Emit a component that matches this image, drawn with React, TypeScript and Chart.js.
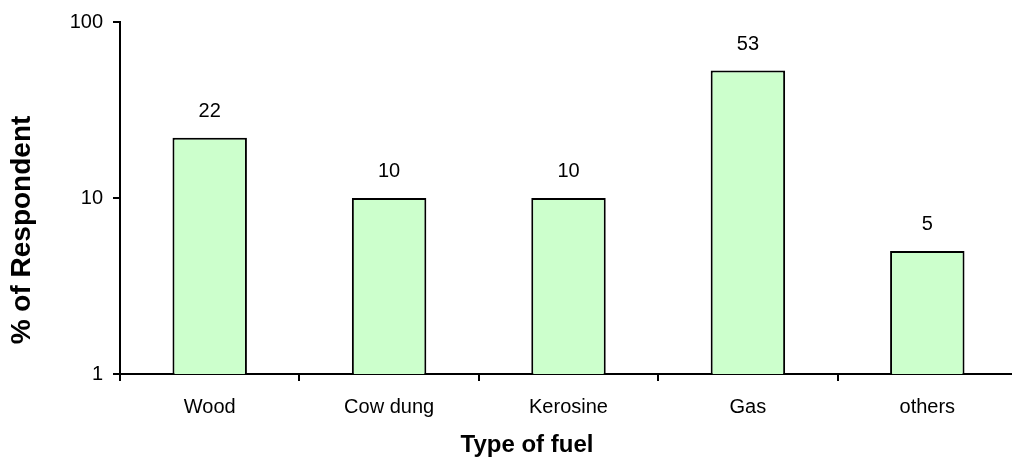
import React, { useEffect, useRef } from "react";
import { Chart, registerables } from "chart.js";

Chart.register(...registerables);

const categories = ["Wood", "Cow dung", "Kerosine", "Gas", "others"];
const values = [22, 10, 10, 53, 5];
const yTicks = [1, 10, 100];
const xTitle = "Type of fuel";
const yTitle = "% of Respondent";

const FONT = "'Liberation Sans', Arial, sans-serif";

const labelsPlugin = {
  id: "customLabels",
  afterDatasetsDraw(chart: any) {
    const ctx = chart.ctx;
    const meta = chart.getDatasetMeta(0);
    ctx.save();
    ctx.fillStyle = "#000";
    ctx.font = `20px ${FONT}`;
    ctx.textAlign = "center";
    ctx.textBaseline = "alphabetic";
    meta.data.forEach((bar: any, i: number) => {
      ctx.fillText(String(values[i]), bar.x, bar.y - 21);
    });
    ctx.restore();
  },
  afterDraw(chart: any) {
    const ctx = chart.ctx;
    ctx.save();
    ctx.fillStyle = "#000";
    ctx.font = `bold 24px ${FONT}`;
    ctx.textAlign = "center";
    ctx.textBaseline = "alphabetic";
    ctx.fillText(xTitle, 527, 452);
    ctx.translate(22, 230);
    ctx.rotate(-Math.PI / 2);
    ctx.font = `bold 28px ${FONT}`;
    ctx.textBaseline = "middle";
    ctx.fillText(yTitle, 0, 0);
    ctx.restore();
  },
};

export default function App() {
  const ref = useRef<HTMLCanvasElement>(null);
  useEffect(() => {
    if (!ref.current) return;
    const chart = new Chart(ref.current, {
      type: "bar",
      data: {
        labels: categories,
        datasets: [
          {
            data: values,
            backgroundColor: "#CCFFCC",
            borderColor: "#000",
            borderWidth: 2,
            barPercentage: 0.415,
            categoryPercentage: 1,
          },
        ],
      },
      options: {
        responsive: false,
        animation: false,
        devicePixelRatio: 1,
        layout: { padding: { top: 22, right: 7, left: 0, bottom: 0 } },
        plugins: { legend: { display: false }, tooltip: { enabled: false } },
        scales: {
          x: {
            type: "category",
            afterFit: (s: any) => {
              s.height = 84;
            },
            grid: {
              offset: true,
              drawOnChartArea: false,
              drawTicks: true,
              tickLength: 7,
              color: "#000",
              lineWidth: 2,
            },
            border: { display: true, color: "#000", width: 2 },
            ticks: {
              color: "#000",
              font: { family: FONT, size: 20 },
              padding: 14,
              maxRotation: 0,
              autoSkip: false,
            },
          },
          y: {
            type: "logarithmic",
            min: 1,
            max: 100,
            afterFit: (s: any) => {
              s.width = 120;
            },
            afterBuildTicks: (s: any) => {
              s.ticks = yTicks.map((v) => ({ value: v }));
            },
            grid: {
              drawOnChartArea: false,
              drawTicks: true,
              tickLength: 7,
              color: "#000",
              lineWidth: 2,
            },
            border: { display: true, color: "#000", width: 2 },
            ticks: {
              color: "#000",
              font: { family: FONT, size: 20 },
              padding: 10,
              callback: (v: any) => String(v),
            },
          },
        },
      },
      plugins: [labelsPlugin],
    });
    return () => chart.destroy();
  }, []);
  return (
    <div
      style={{
        position: "fixed",
        left: 0,
        top: 0,
        width: 1012,
        height: 458,
        overflow: "hidden",
        background: "#fff",
      }}
    >
      <canvas ref={ref} width={1024} height={458} style={{ display: "block" }} />
    </div>
  );
}
